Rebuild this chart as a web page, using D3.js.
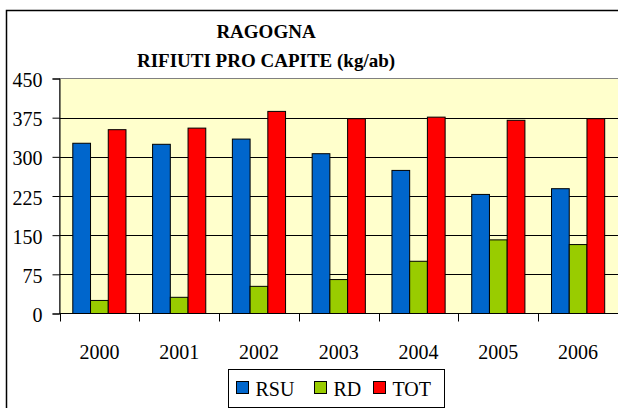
<!DOCTYPE html>
<html>
<head>
<meta charset="utf-8">
<script src="https://cdn.jsdelivr.net/npm/d3@7"></script>
</head>
<body style="margin:0;padding:0;background:#fff">
<script>
// Data
var years = ["2000", "2001", "2002", "2003", "2004", "2005", "2006"];
var series = ["RSU", "RD", "TOT"];
var rsu = [326, 324, 334, 306, 274, 228, 239];
var rd  = [25, 31, 52, 65, 100, 141, 132];
var tot = [352, 355, 387, 373, 376, 370, 373];
var yTicks = [0, 75, 150, 225, 300, 375, 450];
var colors = { RSU: "#0066cc", RD: "#99cc00", TOT: "#ff0000" };

var values = { RSU: rsu, RD: rd, TOT: tot };
var FONT = "'Liberation Serif'";

var W = 618, H = 408;
var plot = { left: 59.5, right: 618, top: 78.5, bottom: 313.5 };

var svg = d3.select("body").append("svg")
  .attr("width", W)
  .attr("height", H)
  .style("display", "block");

// chart area border
svg.append("rect")
  .attr("x", 6.5).attr("y", 10.5)
  .attr("width", W + 10).attr("height", H + 10)
  .attr("fill", "#ffffff")
  .attr("stroke", "#000000")
  .attr("stroke-width", 1.5);

var x0 = d3.scaleBand().domain(years).range([plot.left, plot.right]);
var x1 = d3.scaleBand().domain(series).range([0, x0.bandwidth()])
  .paddingInner(0).paddingOuter(0.75);
var y = d3.scaleLinear().domain([0, 450]).range([plot.bottom, plot.top]);

// plot area
svg.append("rect")
  .attr("x", plot.left).attr("y", plot.top)
  .attr("width", plot.right - plot.left + 2).attr("height", plot.bottom - plot.top)
  .attr("fill", "#ffffcc")
  .attr("stroke", "#808080")
  .attr("stroke-width", 1);

// gridlines
svg.append("g")
  .selectAll("line")
  .data(yTicks.filter(function(d) { return d > 0 && d < 450; }))
  .join("line")
  .attr("x1", plot.left).attr("x2", plot.right + 2)
  .attr("y1", function(d) { return Math.round(y(d)) + 0.5; })
  .attr("y2", function(d) { return Math.round(y(d)) + 0.5; })
  .attr("stroke", "#000000")
  .attr("stroke-width", 1);

// bars
var groups = svg.append("g")
  .selectAll("g")
  .data(years)
  .join("g")
  .attr("transform", function(d) { return "translate(" + x0(d) + ",0)"; });

groups.selectAll("rect")
  .data(function(d, i) { return series.map(function(s) { return { key: s, value: values[s][i] }; }); })
  .join("rect")
  .attr("x", function(d) { return x1(d.key); })
  .attr("y", function(d) { return y(d.value); })
  .attr("width", x1.bandwidth())
  .attr("height", function(d) { return y(0) - y(d.value); })
  .attr("fill", function(d) { return colors[d.key]; })
  .attr("stroke", "#000000")
  .attr("stroke-width", 1);

// y axis
var yAxis = svg.append("g")
  .attr("transform", "translate(" + plot.left + ",0)")
  .call(d3.axisLeft(y).tickValues(yTicks).tickSize(7).tickPadding(10));
yAxis.select(".domain").attr("stroke", "#000");
yAxis.selectAll(".tick line").attr("stroke", "#000");
yAxis.selectAll("text")
  .attr("fill", "#000")
  .attr("dy", "0.4em")
  .style("font-family", FONT)
  .style("font-size", "20px");

// x axis
svg.append("line")
  .attr("x1", plot.left).attr("x2", plot.right)
  .attr("y1", plot.bottom).attr("y2", plot.bottom)
  .attr("stroke", "#000");

var bounds = years.map(function(d) { return x0(d); }).concat([plot.right - 0.5]);
svg.append("g")
  .selectAll("line")
  .data(bounds)
  .join("line")
  .attr("x1", function(d) { return Math.round(d) + 0.5; })
  .attr("x2", function(d) { return Math.round(d) + 0.5; })
  .attr("y1", plot.bottom).attr("y2", plot.bottom + 8)
  .attr("stroke", "#000");

svg.append("g")
  .selectAll("text")
  .data(years)
  .join("text")
  .attr("x", function(d) { return x0(d) + x0.bandwidth() / 2; })
  .attr("y", 359)
  .attr("text-anchor", "middle")
  .style("font-family", FONT)
  .style("font-size", "20px")
  .text(function(d) { return d; });

// title
var title = svg.append("g")
  .style("font-family", FONT)
  .style("font-size", "19px")
  .style("font-weight", "bold");
title.append("text").attr("x", 266).attr("y", 37.5)
  .attr("text-anchor", "middle").text("RAGOGNA");
title.append("text").attr("x", 266).attr("y", 66.5)
  .attr("text-anchor", "middle").text("RIFIUTI PRO CAPITE (kg/ab)");

// legend
var legend = svg.append("g").attr("transform", "translate(228.5,369.5)");
legend.append("rect")
  .attr("width", 216).attr("height", 38)
  .attr("fill", "#ffffff")
  .attr("stroke", "#000")
  .attr("stroke-width", 1);

var legendX = [8, 86, 145];
var items = legend.selectAll("g.item")
  .data(series)
  .join("g")
  .attr("class", "item")
  .attr("transform", function(d, i) { return "translate(" + legendX[i] + ",0)"; });
items.append("rect")
  .attr("x", 0).attr("y", 12)
  .attr("width", 12).attr("height", 12)
  .attr("fill", function(d) { return colors[d]; })
  .attr("stroke", "#000");
items.append("text")
  .attr("x", 19).attr("y", 26)
  .style("font-family", FONT)
  .style("font-size", "20px")
  .text(function(d) { return d; });
</script>
</body>
</html>
